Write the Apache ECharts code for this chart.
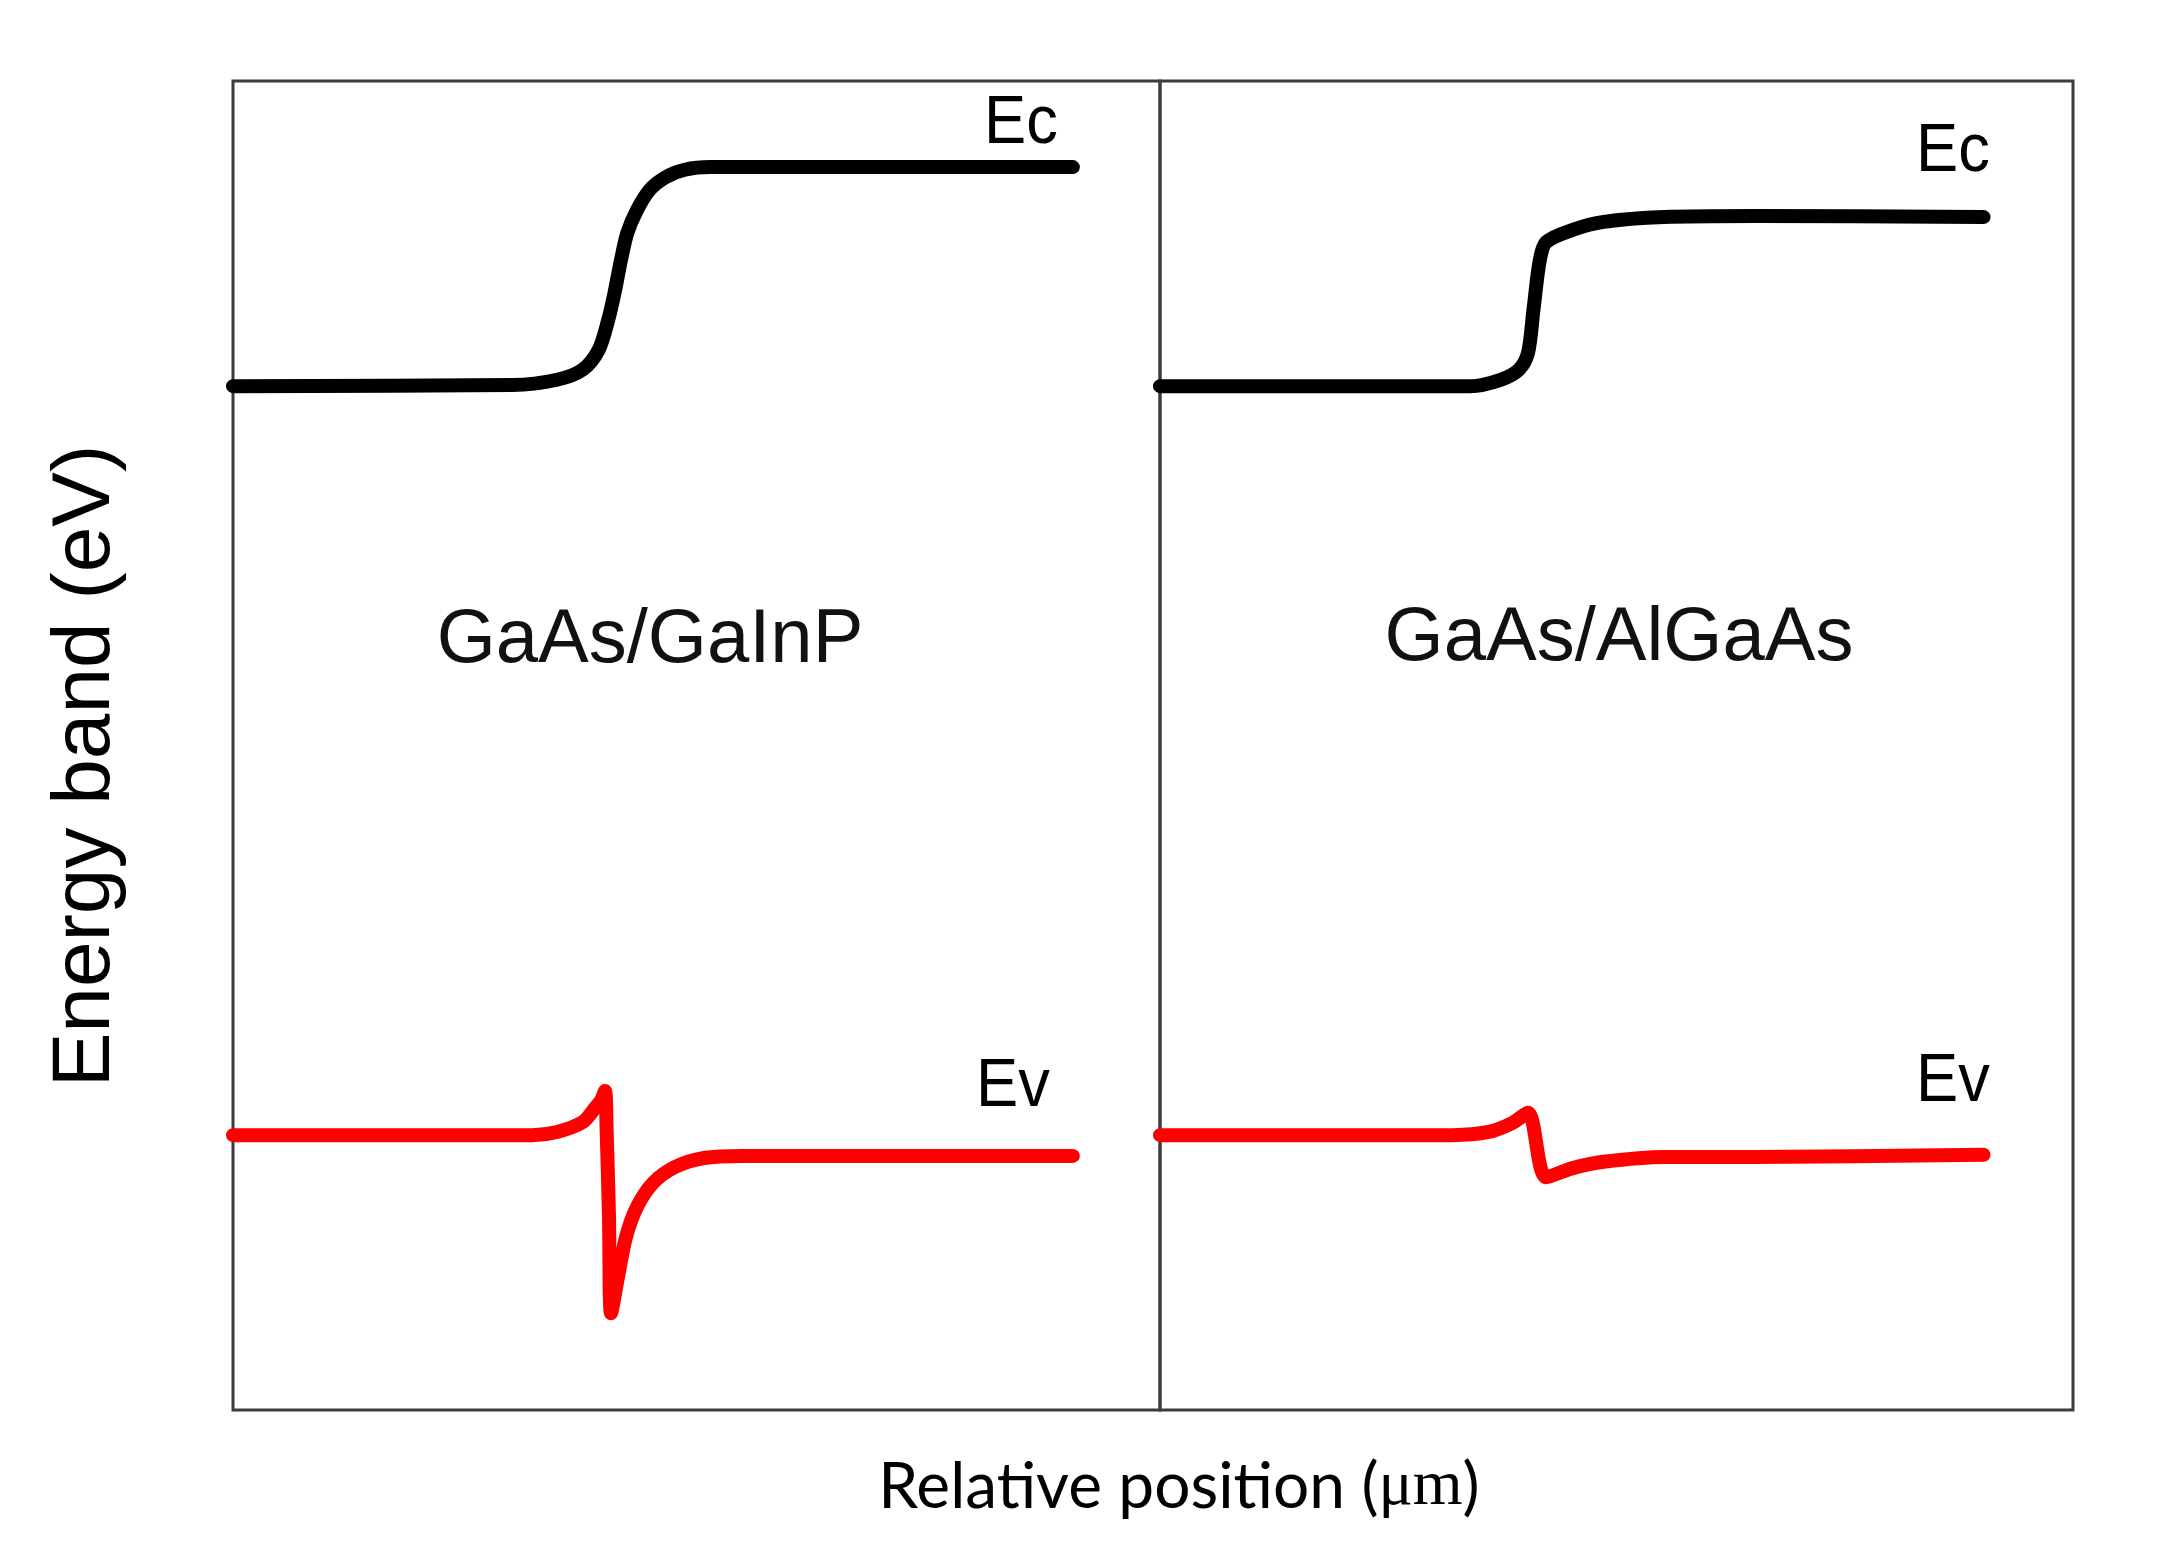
<!DOCTYPE html>
<html>
<head>
<meta charset="utf-8">
<script src="https://cdn.jsdelivr.net/npm/echarts@6/dist/echarts.min.js"></script>
<style>
html,body{margin:0;padding:0;background:#fff;}
#chart{width:2160px;height:1550px;}
</style>
</head>
<body>
<div id="chart"></div>
<script>
// Relative position (arbitrary units, 0-100 per panel) and energy (eV)
const posGaInPEc = [0, 30.15, 34.96, 37.72, 39.44, 40.47, 41.15, 41.85, 42.53, 43.57, 44.94, 46.67, 48.73, 51.48, 90.6];
const ecGaInP    = [1.426, 1.428, 1.438, 1.457, 1.494, 1.550, 1.601, 1.663, 1.714, 1.757, 1.795, 1.819, 1.833, 1.838, 1.838];

const posGaInPEv = [0, 32.25, 34.95, 37.76, 39.05, 39.75, 40.13, 40.3, 40.56, 40.78, 41.53, 42.39, 43.58, 45.31, 47.68, 50.81, 54.91, 90.6];
const evGaInP    = [0.017, 0.017, 0.023, 0.042, 0.068, 0.084, 0.100, 0.030, -0.137, -0.318, -0.250, -0.175, -0.118, -0.073, -0.043, -0.026, -0.022, -0.022];

const posAlGaAsEc = [0, 34.0, 37.3, 39.3, 40.3, 40.9, 41.6, 42.3, 45.2, 48.6, 55.2, 65.1, 90.2];
const ecAlGaAs    = [1.426, 1.426, 1.438, 1.457, 1.488, 1.569, 1.663, 1.697, 1.720, 1.735, 1.744, 1.746, 1.744];

const posAlGaAsEv = [0, 32.0, 36.0, 38.6, 40.3, 42.3, 45.2, 48.6, 55.2, 65.1, 90.2];
const evAlGaAs    = [0.017, 0.017, 0.023, 0.040, 0.059, -0.062, -0.045, -0.033, -0.024, -0.024, -0.020];

const panelNames = ['GaAs/GaInP', 'GaAs/AlGaAs'];
const bandNames = ['Ec', 'Ev'];
const yTitle = 'Energy band (eV)';
const xTitleParts = ['Relative position (', 'μm', ')'];

function pairs(xs, ys) { return xs.map((x, i) => [x, ys[i]]); }

const chart = echarts.init(document.getElementById('chart'), null, {renderer: 'canvas'});

const gridCommon = {top: 81, height: 1329, show: true, borderColor: '#3c3c3c', borderWidth: 3, backgroundColor: 'transparent'};
const xCommon = {type: 'value', min: 0, max: 100, show: false};
const yCommon = {type: 'value', min: -0.5, max: 2.0, show: false};

function lineSeries(idx, data, color) {
  return {
    type: 'line', xAxisIndex: idx, yAxisIndex: idx, data: data,
    showSymbol: false, symbol: 'none', smooth: 0.3,
    lineStyle: {color: color, width: 14, cap: 'round', join: 'round'},
    silent: true, animation: false
  };
}

const labelFont = '68px "Liberation Sans", Arial, sans-serif';
function bandLabel(text, x, y) {
  return {type: 'text', x: x, y: y, scaleX: 0.93,
    style: {text: text, font: labelFont, fill: '#000', textAlign: 'center', textVerticalAlign: 'middle'}};
}

chart.setOption({
  backgroundColor: '#ffffff',
  animation: false,
  grid: [
    Object.assign({left: 233, width: 927}, gridCommon),
    Object.assign({left: 1160, width: 913}, gridCommon)
  ],
  xAxis: [Object.assign({gridIndex: 0}, xCommon), Object.assign({gridIndex: 1}, xCommon)],
  yAxis: [Object.assign({gridIndex: 0}, yCommon), Object.assign({gridIndex: 1}, yCommon)],
  series: [
    lineSeries(0, pairs(posGaInPEc, ecGaInP), '#000000'),
    lineSeries(0, pairs(posGaInPEv, evGaInP), '#ff0000'),
    lineSeries(1, pairs(posAlGaAsEc, ecAlGaAs), '#000000'),
    lineSeries(1, pairs(posAlGaAsEv, evAlGaAs), '#ff0000')
  ],
  graphic: [
    bandLabel(bandNames[0], 1021, 124),
    bandLabel(bandNames[0], 1953, 152),
    bandLabel(bandNames[1], 1013, 1087),
    bandLabel(bandNames[1], 1953, 1082),
    {type: 'text', x: 650, y: 641, style: {text: panelNames[0], font: '76px "Liberation Sans", Arial, sans-serif', fill: '#111', textAlign: 'center', textVerticalAlign: 'middle'}},
    {type: 'text', x: 1619, y: 639, style: {text: panelNames[1], font: '76px "Liberation Sans", Arial, sans-serif', fill: '#111', textAlign: 'center', textVerticalAlign: 'middle'}},
    {type: 'text', x: 86, y: 766, rotation: Math.PI / 2, style: {text: yTitle, font: '82px "Liberation Sans", Arial, sans-serif', fill: '#000', textAlign: 'center', textVerticalAlign: 'middle'}},
    {type: 'text', x: 1179, y: 1487, style: {
      text: '{a|' + xTitleParts[0] + '}{b|' + xTitleParts[1] + '}{a|' + xTitleParts[2] + '}',
      textAlign: 'center', textVerticalAlign: 'middle',
      rich: {
        a: {font: '64px Lato, "Open Sans", sans-serif', fill: '#000'},
        b: {font: '64px "Liberation Serif", "DejaVu Serif", serif', fill: '#000'}
      }
    }}
  ]
});
</script>
</body>
</html>
